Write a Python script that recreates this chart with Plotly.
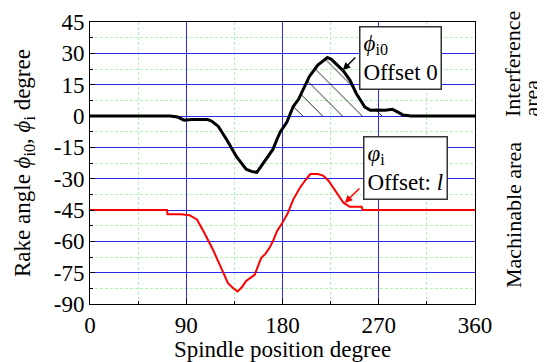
import plotly.graph_objects as go
import numpy as np

# Offset 0 curve (phi_i0)
x_i0 = [0, 75, 82, 88, 95, 110, 114, 120, 128, 137, 146, 151, 156, 160, 166, 171, 175, 178, 184,
        190, 195, 199, 205, 213, 218, 222, 226, 230, 237, 243, 249, 257, 262, 268, 276, 283, 288, 293, 300, 360]
y_i0 = [0, 0, -0.5, -2, -1.7, -1.7, -2.5, -5, -11.5, -19.5, -25.5, -26.5, -27, -24, -19.5, -16, -11, -7.5, -3,
        4.5, 8, 12.4, 18.8, 24.4, 26.5, 28, 27, 25, 21.5, 17.2, 10.8, 4.3, 2.8, 2.9, 2.8, 3.2, 2, 0.5, 0, 0]

# Offset l curve (phi_i)
x_i = [0, 72, 72.5, 85, 93, 100, 107, 115, 122, 129, 134, 138, 142, 146, 150, 154, 157, 160, 164, 168,
       171, 175, 180, 185, 190, 196, 201, 206, 213, 218, 223, 227, 232, 237, 243, 254, 255, 360]
y_i = [-45, -45, -47, -47, -47.5, -49.5, -56, -64, -72, -80, -82.5, -84, -82, -79, -77.5, -76, -72, -68, -66, -63,
       -60, -55, -51, -46.5, -40, -34.6, -31, -27.8, -27.8, -28.5, -31, -34, -38, -41.5, -43.5, -43.5, -45, -45]

x_ticks = [0, 90, 180, 270, 360]
y_ticks = [45, 30, 15, 0, -15, -30, -45, -60, -75, -90]
y_ticktext = [str(v) for v in y_ticks]

hatch_range = (188, 296)

FONT = "Liberation Serif, Times New Roman, serif"
FS = 23

fig = go.Figure()

# hatched interference area
hx = np.array(x_i0, dtype=float)
hy = np.array(y_i0, dtype=float)
mask = (hx >= hatch_range[0]) & (hx <= hatch_range[1])
fig.add_trace(go.Scatter(
    x=hx[mask], y=np.clip(hy[mask], 0, None), mode="lines",
    line=dict(width=0, color="rgba(0,0,0,0)"),
    fill="tozeroy", fillcolor="rgba(0,0,0,0)",
    fillpattern=dict(shape="\\", fgcolor="black", fgopacity=1, bgcolor="rgba(255,255,255,0)",
                     size=14, solidity=0.06),
    hoverinfo="skip", showlegend=False))

fig.add_trace(go.Scatter(x=x_i0, y=y_i0, mode="lines",
                         line=dict(color="black", width=3), showlegend=False))
fig.add_trace(go.Scatter(x=x_i, y=y_i, mode="lines",
                         line=dict(color="#ff0000", width=2), showlegend=False))

axis_common = dict(
    showline=True, linecolor="black", linewidth=1, mirror=True,
    ticks="inside", ticklen=5, tickcolor="black",
    showgrid=True, gridcolor="#2a2aee", gridwidth=1,
    zeroline=False, automargin=False,
    tickfont=dict(family=FONT, size=FS, color="black"),
)

minor_grid = dict(ticks="inside", ticklen=3, tickcolor="black",
                  showgrid=True, gridcolor="#b5f2b5", griddash="3px,2px", gridwidth=1)

fig.update_xaxes(
    range=[0, 360], tickvals=x_ticks, ticktext=[str(v) for v in x_ticks],
    minor=dict(dtick=45, tick0=0, **minor_grid),
    title=dict(text="Spindle position degree", font=dict(family=FONT, size=FS, color="black"), standoff=0),
    **axis_common)
fig.update_yaxes(
    range=[-90, 45], tickvals=y_ticks, ticktext=y_ticktext,
    minor=dict(dtick=7.5, tick0=0, **minor_grid),
    title=dict(text="Rake angle <i>ϕ</i><sub>i0</sub>, <i>ϕ</i><sub>i</sub> degree",
               font=dict(family=FONT, size=FS, color="black"), standoff=16),
    **axis_common)

ann_font = dict(family=FONT, size=FS, color="black")
fig.add_annotation(x=290.2, y=27.75, xref="x", yref="y",
                   text="<i>ϕ</i><sub>i0</sub><br>Offset 0", showarrow=False,
                   align="left", font=ann_font, bgcolor="white",
                   bordercolor="#333333", borderwidth=1.5, borderpad=3)
fig.add_annotation(x=295.3, y=-24.9, xref="x", yref="y",
                   text="<i>φ</i><sub>i</sub><br>Offset: <i>l</i>", showarrow=False,
                   align="left", font=ann_font, bgcolor="white",
                   bordercolor="#333333", borderwidth=1.5, borderpad=3)
# arrows
fig.add_annotation(x=236.4, y=22, ax=249.5, ay=28.7, xref="x", yref="y", axref="x", ayref="y",
                   text="", showarrow=True, arrowhead=2, arrowsize=1, arrowwidth=1.5, arrowcolor="black")
fig.add_annotation(x=238.3, y=-41.6, ax=253.3, ay=-34, xref="x", yref="y", axref="x", ayref="y",
                   text="", showarrow=True, arrowhead=2, arrowsize=1, arrowwidth=1.5, arrowcolor="#ff0000")

# right side labels
side_font = dict(family=FONT, size=22, color="black")
fig.add_annotation(xref="paper", yref="paper", x=(512 - 90) / 385, y=(304 - 119) / 282,
                   text="Interference", textangle=-90, showarrow=False, font=side_font,
                   xanchor="center", yanchor="bottom")
fig.add_annotation(xref="paper", yref="paper", x=(531 - 90) / 385, y=(304 - 119) / 282,
                   text="area", textangle=-90, showarrow=False, font=side_font,
                   xanchor="center", yanchor="bottom")
fig.add_annotation(xref="paper", yref="paper", x=(513 - 90) / 385, y=(304 - 290) / 282,
                   text="Machinable area", textangle=-90, showarrow=False, font=side_font,
                   xanchor="center", yanchor="bottom")

# page body has an 8px margin; compensate so the plot area lands at x 90..475, y 22..304
fig.update_layout(
    width=537, height=354,
    margin=dict(l=82, r=70, t=14, b=58),
    paper_bgcolor="white", plot_bgcolor="white",
    font=dict(family=FONT, size=FS, color="black"),
)

fig.write_html("out.html")
